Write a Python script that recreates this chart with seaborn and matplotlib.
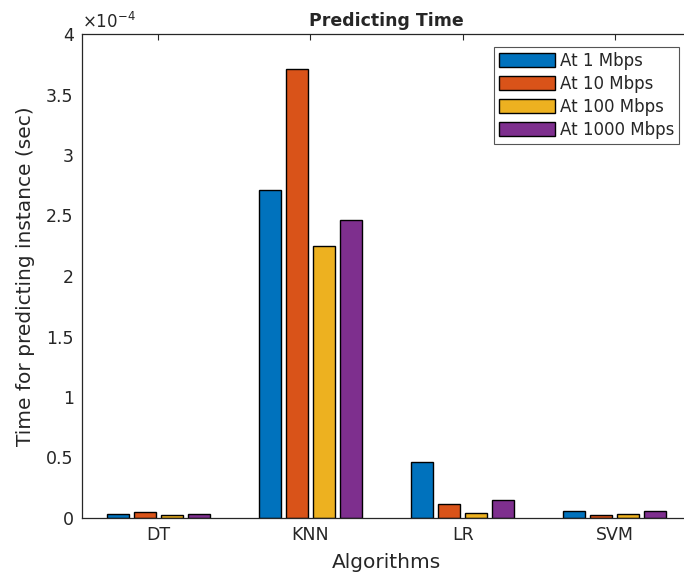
import seaborn as sns
import matplotlib.pyplot as plt
import pandas as pd
from matplotlib.ticker import FuncFormatter

# data (seconds)
algorithms = ["DT", "KNN", "LR", "SVM"]
speeds = ["At 1 Mbps", "At 10 Mbps", "At 100 Mbps", "At 1000 Mbps"]
t_1 = [0.037e-4, 2.71e-4, 0.46e-4, 0.058e-4]
t_10 = [0.047e-4, 3.71e-4, 0.115e-4, 0.025e-4]
t_100 = [0.025e-4, 2.25e-4, 0.045e-4, 0.035e-4]
t_1000 = [0.033e-4, 2.46e-4, 0.15e-4, 0.055e-4]

colors = ["#0072BD", "#D95319", "#EDB120", "#7E2F8E"]

rows = []
for sp, vals in zip(speeds, [t_1, t_10, t_100, t_1000]):
    for alg, v in zip(algorithms, vals):
        rows.append({"Algorithm": alg, "Speed": sp, "Time": v})
df = pd.DataFrame(rows)

sns.set_style("white")
plt.rcParams["font.family"] = ["DejaVu Sans"]
dark = "#262626"

fig = plt.figure(figsize=(6.84, 5.78), dpi=100)
ax = fig.add_axes([82 / 684, 60 / 578, 609 / 684, 484 / 578])

sns.barplot(data=df, x="Algorithm", y="Time", hue="Speed", order=algorithms,
            hue_order=speeds, palette=colors, width=0.71, gap=0.19,
            edgecolor="black", linewidth=1, saturation=1, ax=ax)

ax.set_xlim(-0.5, 3.5)
ax.set_ylim(0, 4e-4)
ax.set_yticks([i * 0.5e-4 for i in range(9)])
ax.yaxis.set_major_formatter(FuncFormatter(lambda v, p: f"{v * 1e4:g}"))
ax.text(0.0, 1.005, r"$\times10^{-4}$", transform=ax.transAxes, fontsize=12,
        color=dark, ha="left", va="bottom")

ax.tick_params(direction="in", length=4, width=0.8, colors=dark,
               labelsize=12.5, top=True, right=True, pad=6)
for s in ax.spines.values():
    s.set_color(dark)
    s.set_linewidth(0.9)

ax.set_title("Predicting Time", fontsize=12.5, fontweight="bold", pad=6)
ax.set_xlabel("Algorithms", fontsize=14.5, color=dark, labelpad=6)
ax.set_ylabel("Time for predicting instance (sec)", fontsize=14.5, color=dark, labelpad=8)

leg = ax.legend(loc="upper right", bbox_to_anchor=(679 / 684, 1 - 47 / 578),
                bbox_transform=fig.transFigure, fontsize=12, frameon=True,
                fancybox=False, framealpha=1, edgecolor="#555555",
                handlelength=3.4, handleheight=0.9, handletextpad=0.25,
                labelspacing=0.3, borderpad=0.3, borderaxespad=0)
leg.get_frame().set_linewidth(0.8)

plt.savefig("out.png", dpi=100)
plt.close()
